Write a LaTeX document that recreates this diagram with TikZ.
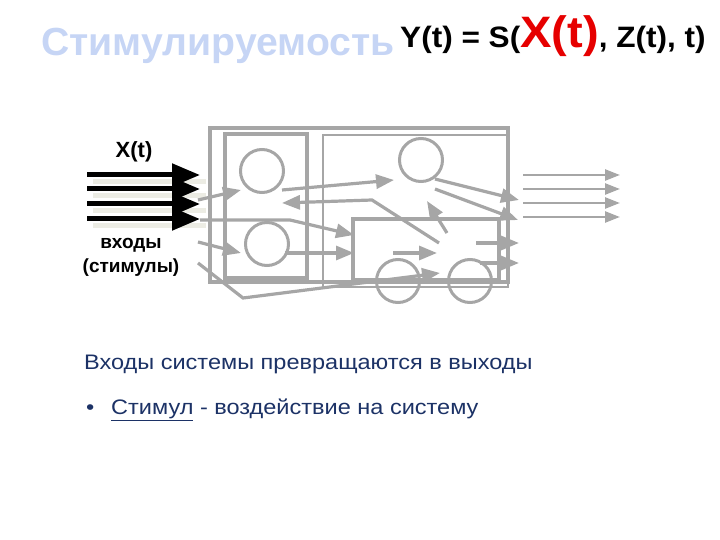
\documentclass[tikz,border=0pt]{standalone}
\usepackage{fontspec}
\setmainfont{Liberation Sans}
\newfontfamily\widefont[FakeStretch=1.12]{Liberation Sans}
\newfontfamily\eqfont[FakeStretch=1.07]{Liberation Sans}
\usetikzlibrary{arrows.meta}
\definecolor{gr}{RGB}{166,166,166}
\definecolor{titleblue}{RGB}{198,213,245}
\definecolor{navy}{RGB}{28,50,102}
\definecolor{redx}{RGB}{230,0,0}
\definecolor{shadowc}{RGB}{236,236,228}
\begin{document}
\begin{tikzpicture}[x=1pt,y=-1pt,
  cir/.style={circle,draw=gr,line width=3pt,minimum size=43pt,inner sep=0pt},
  thickbox/.style={draw=gr,line width=3.2pt},
  thinbox/.style={draw=gr,line width=1.5pt},
  garrow/.style={draw=gr,line width=3.2pt,-{Triangle[length=18pt,width=14pt]}},
  oarrow/.style={draw=gr,line width=2.5pt,-{Triangle[length=15pt,width=11pt]}},
  barrow/.style={draw=black,line width=5pt,-{Triangle[length=28pt,width=22pt]}},
  shadowline/.style={draw=shadowc,line width=5pt},
  lbl/.style={font=\bfseries\fontsize{19}{19}\selectfont,inner sep=0pt},
  btext/.style={anchor=base west,inner sep=0pt,text=navy,font=\widefont\fontsize{21}{21}\selectfont}]
\useasboundingbox (0,0) rectangle (720,540);

% title and formula
\node[anchor=base west,inner sep=0pt,text=titleblue,font=\bfseries\fontsize{39.2}{40}\selectfont] (title) at (41,56) {Стимулируемость};
\node[anchor=base west,inner sep=0pt,font=\eqfont\bfseries\fontsize{29.5}{30}\selectfont] (eq) at (400,48) {Y(t) = S(\textcolor{redx}{\fontsize{44}{44}\selectfont X(t)}, Z(t), t)};

% boxes
\draw[thinbox] (323,135) rectangle (508,287);
\draw[thickbox] (210,128) rectangle (508,282);
\draw[thickbox] (225,134) rectangle (307,278);
\draw[thickbox] (353,219) rectangle (499,280);

% circles
\node[cir] (c1) at (262,171) {};
\node[cir] (c2) at (267,244) {};
\node[cir] (c3) at (421,160) {};
\node[cir] (c4) at (398,281) {};
\node[cir] (c5) at (470,281) {};

% input shadows and black arrows
\foreach \i/\y in {1/175,2/189,3/204,4/219}{
  \coordinate (s\i) at (87,\y);
  \coordinate (t\i) at (200,\y);
  \draw[shadowline] ([shift={(6,7)}]s\i) -- ([shift={(6,7)}]t\i);
}
\foreach \i in {1,...,4}{
  \draw[barrow] (s\i) -- (t\i);
}
\node[lbl,font=\bfseries\fontsize{22}{22}\selectfont] (xt) at (134,152) {X(t)};
\node[lbl] (vh) at (131,245) {входы};
\node[lbl] (st) at (131,268) {(стимулы)};

% internal connectors
\coordinate (a1s) at (198,200); \coordinate (a1e) at (241,190);
\draw[garrow] (a1s) -- (a1e);
\coordinate (a2s) at (198,242); \coordinate (a2e) at (241,253);
\draw[garrow] (a2s) -- (a2e);
\coordinate (a3s) at (198,263); \coordinate (a3m) at (243,298); \coordinate (a3e) at (440,273);
\draw[garrow] (a3s) -- (a3m) -- (a3e);
\coordinate (a4s) at (200,220); \coordinate (a4m) at (290,220); \coordinate (a4e) at (354,235);
\draw[garrow] (a4s) -- (a4m) -- (a4e);
\coordinate (a5s) at (282,190); \coordinate (a5e) at (394,180);
\draw[garrow] (a5s) -- (a5e);
\coordinate (a6s) at (439,243); \coordinate (a6m) at (372,200); \coordinate (a6e) at (282,203);
\draw[garrow] (a6s) -- (a6m) -- (a6e);
\coordinate (a7s) at (285,253); \coordinate (a7e) at (354,253);
\draw[garrow] (a7s) -- (a7e);
\coordinate (a8s) at (393,253); \coordinate (a8e) at (437,253);
\draw[garrow] (a8s) -- (a8e);
\coordinate (a9s) at (447,233); \coordinate (a9e) at (427,201);
\draw[garrow] (a9s) -- (a9e);
\coordinate (a10s) at (435,179); \coordinate (a10e) at (519,200);
\draw[garrow] (a10s) -- (a10e);
\coordinate (a11s) at (435,189); \coordinate (a11e) at (518,220);
\draw[garrow] (a11s) -- (a11e);
\coordinate (a12s) at (476,243); \coordinate (a12e) at (519,243);
\draw[garrow] (a12s) -- (a12e);
\coordinate (a13s) at (480,263); \coordinate (a13e) at (519,263);
\draw[garrow] (a13s) -- (a13e);

% outputs
\foreach \i/\y in {1/175,2/189,3/203,4/217}{
  \coordinate (o\i s) at (523,\y);
  \coordinate (o\i e) at (620,\y);
  \draw[oarrow] (o\i s) -- (o\i e);
}

% bottom texts
\node[btext] (t1) at (84,369) {Входы системы превращаются в выходы};
\node[btext] (bul) at (86,414) {•};
\node[btext] (t2) at (111,414) {\underline{Стимул} - воздействие на систему};
\end{tikzpicture}
\end{document}
